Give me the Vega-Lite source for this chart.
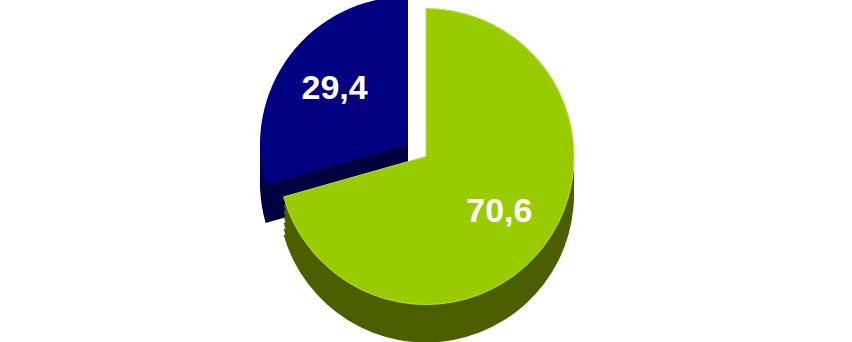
{
  "$schema": "https://vega.github.io/schema/vega-lite/v6.json",
  "width": 852,
  "height": 342,
  "autosize": {"type": "fit", "contains": "padding"},
  "background": "white",
  "view": {"stroke": null},
  "data": {"values": [
    {"category": "A", "value": 70.6, "label": "70,6", "order": 1},
    {"category": "B", "value": 29.4, "label": "29,4", "order": 2}
  ]},
  "encoding": {
    "theta": {"field": "value", "type": "quantitative", "stack": true},
    "order": {"field": "order", "type": "quantitative"}
  },
  "layer": [
    {"mark": {"type": "arc", "radius": 148, "xOffset": -18, "yOffset": 8, "fill": "#000040"},
     "encoding": {"opacity": {"condition": {"test": "datum.category === 'B'", "value": 1}, "value": 0}}},
    {"mark": {"type": "arc", "radius": 148, "xOffset": -18, "yOffset": 2, "fill": "#000040"},
     "encoding": {"opacity": {"condition": {"test": "datum.category === 'B'", "value": 1}, "value": 0}}},
    {"mark": {"type": "arc", "radius": 148, "xOffset": -18, "yOffset": -4, "fill": "#000040"},
     "encoding": {"opacity": {"condition": {"test": "datum.category === 'B'", "value": 1}, "value": 0}}},
    {"mark": {"type": "arc", "radius": 148, "xOffset": -18, "yOffset": -10, "fill": "#000040"},
     "encoding": {"opacity": {"condition": {"test": "datum.category === 'B'", "value": 1}, "value": 0}}},
    {"mark": {"type": "arc", "radius": 148, "xOffset": -18, "yOffset": -16, "fill": "#000040"},
     "encoding": {"opacity": {"condition": {"test": "datum.category === 'B'", "value": 1}, "value": 0}}},
    {"mark": {"type": "arc", "radius": 148, "xOffset": -18, "yOffset": -22, "fill": "#000040"},
     "encoding": {"opacity": {"condition": {"test": "datum.category === 'B'", "value": 1}, "value": 0}}},
    {"mark": {"type": "arc", "radius": 148, "xOffset": -18, "yOffset": -30, "fill": "#000080"},
     "encoding": {"opacity": {"condition": {"test": "datum.category === 'B'", "value": 1}, "value": 0}}},
    {"mark": {"type": "arc", "radius": 148, "yOffset": 20, "fill": "#4B5F00"},
     "encoding": {"opacity": {"condition": {"test": "datum.category === 'A'", "value": 1}, "value": 0}}},
    {"mark": {"type": "arc", "radius": 148, "yOffset": 14, "fill": "#4B5F00"},
     "encoding": {"opacity": {"condition": {"test": "datum.category === 'A'", "value": 1}, "value": 0}}},
    {"mark": {"type": "arc", "radius": 148, "yOffset": 8, "fill": "#4B5F00"},
     "encoding": {"opacity": {"condition": {"test": "datum.category === 'A'", "value": 1}, "value": 0}}},
    {"mark": {"type": "arc", "radius": 148, "yOffset": 2, "fill": "#4B5F00"},
     "encoding": {"opacity": {"condition": {"test": "datum.category === 'A'", "value": 1}, "value": 0}}},
    {"mark": {"type": "arc", "radius": 148, "yOffset": -4, "fill": "#4B5F00"},
     "encoding": {"opacity": {"condition": {"test": "datum.category === 'A'", "value": 1}, "value": 0}}},
    {"mark": {"type": "arc", "radius": 148, "yOffset": -10, "fill": "#4B5F00"},
     "encoding": {"opacity": {"condition": {"test": "datum.category === 'A'", "value": 1}, "value": 0}}},
    {"mark": {"type": "arc", "radius": 148, "yOffset": -18, "fill": "#99CC00", "stroke": "#B8E040", "strokeWidth": 1},
     "encoding": {"opacity": {"condition": {"test": "datum.category === 'A'", "value": 1}, "value": 0}}},
    {
      "mark": {"type": "text", "radius": 92, "fill": "white", "font": "Liberation Sans", "fontWeight": "bold", "fontSize": 34, "yOffset": -18},
      "encoding": {
        "text": {"field": "label", "type": "nominal"},
        "opacity": {"condition": {"test": "datum.category === 'A'", "value": 1}, "value": 0}
      }
    },
    {
      "mark": {"type": "text", "radius": 92, "fill": "white", "font": "Liberation Sans", "fontWeight": "bold", "fontSize": 34, "xOffset": -18, "yOffset": -30},
      "encoding": {
        "text": {"field": "label", "type": "nominal"},
        "opacity": {"condition": {"test": "datum.category === 'B'", "value": 1}, "value": 0}
      }
    }
  ]
}
